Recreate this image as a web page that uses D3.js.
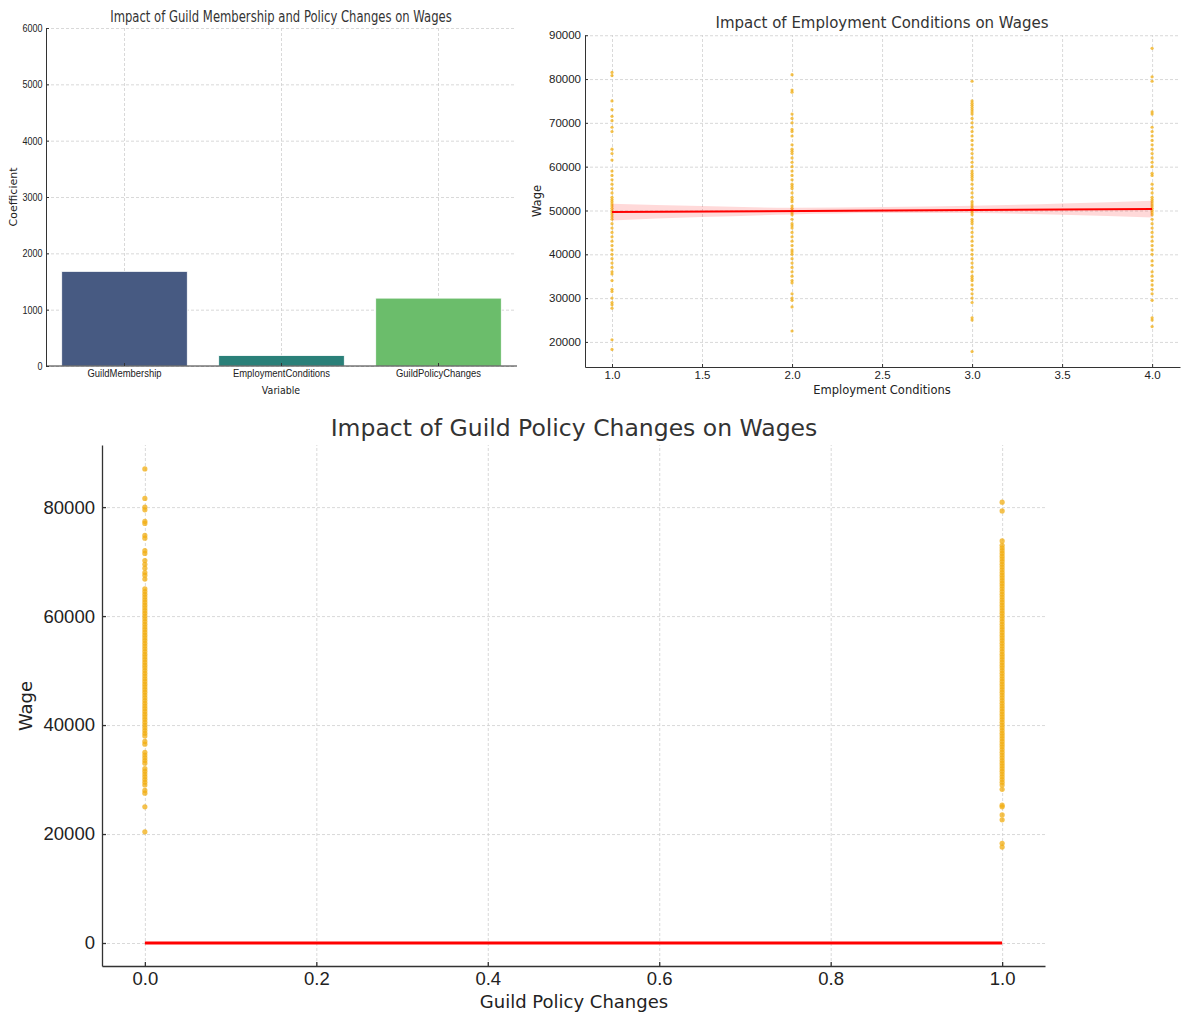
<!DOCTYPE html>
<html>
<head>
<meta charset="utf-8">
<script src="https://cdn.jsdelivr.net/npm/d3@7"></script>
<style>
  body { margin: 0; background: #fff; }
  svg { display: block; font-family: "DejaVu Sans", sans-serif; }
  .grid line { stroke: #cfcfcf; stroke-dasharray: 3,2; stroke-width: 0.8; }
  .grid path { display: none; }
  .axis path, .axis line { stroke: #333; }
  .axis text { fill: #222; }
</style>
</head>
<body>
<svg id="chart" width="1195" height="1013"></svg>
<script>
// --- bar chart: regression coefficients
const variables = ['GuildMembership', 'EmploymentConditions', 'GuildPolicyChanges'];
const coefficients = [1680, 185, 1205];
const barColors = ['#475a82', '#2a8079', '#6bbd6b'];
const coefTicks = [0, 1000, 2000, 3000, 4000, 5000, 6000];

// --- wages by employment condition (1..4)
const empLevels = [1, 2, 3, 4];
const wagesEmp1 = [81500, 80800, 75000, 73000, 71500, 70500, 69000, 68000, 64000, 63000, 61500, 59000, 58000, 57000, 56000,
  55000, 54000, 53000, 52500, 52000, 51500, 51000, 50500, 50000, 49500, 49000, 48500, 48000, 47000, 46000, 45000, 44000,
  43000, 42000, 41000, 40000, 39000, 38000, 37000, 36000, 35500, 34000, 32000, 31500, 30000, 29000, 28500, 27700, 20500, 18300];
const wagesEmp2 = [81000, 77500, 77000, 72000, 71000, 70000, 68500, 68000, 67000, 65000, 64000, 63500, 63000, 62000, 61000,
  60000, 59000, 58000, 57000, 56000, 55500, 55000, 54000, 53000, 52500, 52000, 51000, 50500, 50000, 49500, 49000, 48000,
  47000, 46500, 46000, 45000, 44000, 43000, 42000, 41000, 40500, 40000, 39000, 38000, 37000, 36000, 35000, 34000, 33500,
  31000, 30000, 29500, 28000, 22500];
const wagesEmp3 = [79500, 75000, 74500, 74000, 73500, 73000, 72500, 72000, 71000, 70000, 69000, 68000, 67000, 66000, 65000,
  64000, 63000, 62000, 61000, 60000, 59000, 58500, 58000, 57500, 57000, 56000, 55000, 54000, 53000, 52000, 51500, 51000,
  50500, 50000, 49500, 49000, 48000, 47500, 47000, 46000, 45000, 44000, 43000, 42000, 41000, 40000, 39000, 38000, 37000,
  36000, 35000, 34500, 34000, 33000, 32000, 31000, 30000, 29000, 25500, 25000, 17800];
const wagesEmp4 = [87000, 80500, 79500, 72500, 72000, 69000, 68000, 67000, 66000, 65000, 64000, 63000, 62000, 61000, 60000,
  58500, 58000, 56000, 55000, 54000, 53000, 52500, 52000, 51500, 51000, 50500, 50000, 49500, 49000, 48000, 47000, 46000,
  45000, 44000, 43000, 42000, 41000, 40000, 38500, 37500, 36000, 35000, 34000, 33000, 32000, 31000, 29500, 25500, 25000, 23500];
const wageTicksEmp = [20000, 30000, 40000, 50000, 60000, 70000, 80000, 90000];
const empTicks = [1.0, 1.5, 2.0, 2.5, 3.0, 3.5, 4.0];

// regression fit and 95% band (employment)
const fitX = [1, 4];
const fitY = [49660, 50340];
const bandX = [1, 1.5, 2, 2.5, 3, 3.5, 4];
const bandLow = [47730, 48500, 49100, 49400, 49400, 49000, 48420];
const bandHigh = [51560, 51000, 50600, 50800, 51100, 51600, 52240];

// --- wages by guild policy change (0 / 1)
const wagesPolicy0 = [87000, 81600, 80000, 79500, 77400, 77000, 74800, 74300, 72000, 71500, 70200, 69500, 68800, 68000,
  67500, 66800, 65000, 64500, 64000, 63500, 63000, 62500, 62000, 61500, 61000, 60500, 60000, 59500, 59000, 58500, 58000,
  57500, 57000, 56500, 56000, 55500, 55000, 54500, 54000, 53500, 53000, 52500, 52000, 51500, 51000, 50500, 50000, 49500,
  49000, 48500, 48000, 47500, 47000, 46500, 46000, 45500, 45000, 44500, 44000, 43500, 43000, 42500, 42000, 41500, 41000,
  40500, 40000, 39500, 39000, 38500, 38000, 37000, 36500, 35000, 34500, 34000, 33500, 33000, 32000, 31500, 31000, 30500,
  30000, 29500, 29000, 28000, 27500, 25000, 20400];
const wagesPolicy1 = [80900, 79300, 73800, 73000, 72500, 72000, 71500, 71000, 70500, 70000, 69500, 69000, 68500, 68000,
  67500, 67000, 66500, 66000, 65500, 65000, 64500, 64000, 63500, 63000, 62500, 62000, 61500, 61000, 60500, 60000, 59500,
  59000, 58500, 58000, 57500, 57000, 56500, 56000, 55500, 55000, 54500, 54000, 53500, 53000, 52500, 52000, 51500, 51000,
  50500, 50000, 49500, 49000, 48500, 48000, 47500, 47000, 46500, 46000, 45500, 45000, 44500, 44000, 43500, 43000, 42500,
  42000, 41500, 41000, 40500, 40000, 39500, 39000, 38500, 38000, 37500, 37000, 36500, 36000, 35500, 35000, 34500, 34000,
  33500, 33000, 32500, 32000, 31500, 31000, 30500, 30000, 29500, 29000, 28200, 25300, 25000, 23500, 22600, 18300, 17600];
const policyLevels = [0, 1];
const policyFit = [0, 0];
const wageTicksPolicy = [0, 20000, 40000, 60000, 80000];
const policyTicks = [0.0, 0.2, 0.4, 0.6, 0.8, 1.0];

const svg = d3.select('#chart');
const dotColor = '#f2ae12';

// the bar panel was squeezed horizontally in the original, so its text is narrowed
const squeeze = 0.86;
function narrow(sel) {
    sel.attr('transform', function () {
        const t = d3.select(this).attr('transform') || '';
        return t + ` scale(${squeeze},1)`;
    });
}

// ================= top-left: bar chart =================
{
  const g = svg.append('g');
  const x = d3.scaleBand().domain(variables).range([46, 517]).paddingInner(0.2).paddingOuter(0.1);
  const y = d3.scaleLinear().domain([0, 6000]).range([366, 28]);

  g.append('g').attr('class', 'grid')
    .attr('transform', 'translate(46,0)')
    .call(d3.axisLeft(y).tickValues(coefTicks).tickSize(-470).tickFormat(''));
  g.append('g').attr('class', 'grid')
    .attr('transform', 'translate(0,366)')
    .call(d3.axisBottom(x).tickSize(-338).tickFormat(''));

  g.selectAll('.bar')
    .data(variables)
    .enter()
    .append('rect')
    .attr('x', d => x(d))
    .attr('width', x.bandwidth())
    .attr('y', (d, i) => y(coefficients[i]))
    .attr('height', (d, i) => y(0) - y(coefficients[i]))
    .attr('fill', (d, i) => barColors[i])
    .attr('stroke', '#fff')
    .attr('stroke-width', 0.8);

  g.append('g').attr('class', 'axis')
    .attr('transform', 'translate(46,0)')
    .call(d3.axisLeft(y).tickValues(coefTicks).tickSize(-3).tickSizeOuter(0).tickPadding(4).tickFormat(d3.format('d')))
    .call(s => s.selectAll('text').style('font-size', '10.5px').call(narrow));
  g.append('g').attr('class', 'axis')
    .attr('transform', 'translate(0,366)')
    .call(d3.axisBottom(x).tickSize(-3).tickSizeOuter(0).tickPadding(3))
    .call(s => s.select('.domain').attr('d', 'M46,0H517'))
    .call(s => s.selectAll('text').style('font-size', '11px').call(narrow));

  g.append('text')
    .attr('transform', `translate(281,394) scale(${squeeze},1)`).attr('text-anchor', 'middle')
    .style('font-size', '11px').attr('fill', '#222').text('Variable');
  g.append('text')
    .attr('transform', 'translate(17,197) rotate(-90)').attr('text-anchor', 'middle')
    .style('font-size', '11px').attr('fill', '#222').text('Coefficient');
  g.append('text')
    .attr('transform', 'translate(281,22) scale(0.775,1)').attr('text-anchor', 'middle')
    .style('font-size', '15px').attr('fill', '#333')
    .text('Impact of Guild Membership and Policy Changes on Wages');
}

// ================= top-right: employment scatter =================
{
  const g = svg.append('g');
  const x = d3.scaleLinear().domain([0.85, 4.155]).range([585, 1180]);
  const y = d3.scaleLinear().domain([14280, 90050]).range([367, 35]);

  g.append('g').attr('class', 'grid')
    .attr('transform', 'translate(585,0)')
    .call(d3.axisLeft(y).tickValues(wageTicksEmp).tickSize(-595).tickFormat(''));
  g.append('g').attr('class', 'grid')
    .attr('transform', 'translate(0,367)')
    .call(d3.axisBottom(x).tickValues(empTicks).tickSize(-332).tickFormat(''));

  const pts = [];
  [wagesEmp1, wagesEmp2, wagesEmp3, wagesEmp4].forEach((arr, i) => {
    arr.forEach(w => pts.push({ e: empLevels[i], w }));
  });
  g.selectAll('.pt')
    .data(pts)
    .enter()
    .append('circle')
    .attr('cx', d => x(d.e))
    .attr('cy', d => y(d.w))
    .attr('r', 1.6)
    .attr('fill', dotColor)
    .attr('fill-opacity', 0.75);

  const band = d3.area()
    .x((d, i) => x(bandX[i]))
    .y0((d, i) => y(bandLow[i]))
    .y1((d, i) => y(bandHigh[i]))
    .curve(d3.curveMonotoneX);
  g.append('path')
    .datum(bandX)
    .attr('d', band)
    .attr('fill', 'rgba(255,0,0,0.15)');
  g.append('path')
    .datum(fitX)
    .attr('d', d3.line().x(d => x(d)).y((d, i) => y(fitY[i])))
    .attr('stroke', '#ff0000')
    .attr('stroke-width', 2)
    .attr('fill', 'none');

  g.append('g').attr('class', 'axis')
    .attr('transform', 'translate(585,0)')
    .call(d3.axisLeft(y).tickValues(wageTicksEmp).tickSize(-3).tickSizeOuter(0).tickPadding(4).tickFormat(d3.format('d')))
    .call(s => s.selectAll('text').style('font-size', '11.5px'));
  g.append('g').attr('class', 'axis')
    .attr('transform', 'translate(0,367)')
    .call(d3.axisBottom(x).tickValues(empTicks).tickSize(-3).tickSizeOuter(0).tickPadding(4).tickFormat(d3.format('.1f')))
    .call(s => s.selectAll('text').style('font-size', '11.5px'));

  g.append('text')
    .attr('x', 882).attr('y', 394).attr('text-anchor', 'middle')
    .style('font-size', '11.5px').attr('fill', '#222').text('Employment Conditions');
  g.append('text')
    .attr('transform', 'translate(541,201) rotate(-90)').attr('text-anchor', 'middle')
    .style('font-size', '11.5px').attr('fill', '#222').text('Wage');
  g.append('text')
    .attr('x', 882).attr('y', 28).attr('text-anchor', 'middle')
    .style('font-size', '15px').attr('fill', '#333')
    .text('Impact of Employment Conditions on Wages');
}

// ================= bottom: guild policy scatter =================
{
  const g = svg.append('g');
  const x = d3.scaleLinear().domain([-0.05, 1.05]).range([102, 1045]);
  const y = d3.scaleLinear().domain([-4220, 91400]).range([966, 445]);

  g.append('g').attr('class', 'grid')
    .attr('transform', 'translate(102,0)')
    .call(d3.axisLeft(y).tickValues(wageTicksPolicy).tickSize(-943).tickFormat(''));
  g.append('g').attr('class', 'grid')
    .attr('transform', 'translate(0,966)')
    .call(d3.axisBottom(x).tickValues(policyTicks).tickSize(-521).tickFormat(''));

  const pts = [];
  [wagesPolicy0, wagesPolicy1].forEach((arr, i) => {
    arr.forEach(w => pts.push({ p: policyLevels[i], w }));
  });
  g.selectAll('.pt')
    .data(pts)
    .enter()
    .append('circle')
    .attr('cx', d => x(d.p))
    .attr('cy', d => y(d.w))
    .attr('r', 2.6)
    .attr('fill', dotColor)
    .attr('fill-opacity', 0.75);

  g.append('path')
    .datum(policyLevels)
    .attr('d', d3.line().x(d => x(d)).y((d, i) => y(policyFit[i])))
    .attr('stroke', '#ff0000')
    .attr('stroke-width', 3)
    .attr('fill', 'none');

  g.append('g').attr('class', 'axis')
    .attr('transform', 'translate(102,0)')
    .call(d3.axisLeft(y).tickValues(wageTicksPolicy).tickSize(-4).tickSizeOuter(0).tickPadding(7).tickFormat(d3.format('d')))
    .call(s => s.selectAll('text').style('font-size', '18.5px'))
    .call(s => s.selectAll('path, line').attr('stroke-width', 1.3));
  g.append('g').attr('class', 'axis')
    .attr('transform', 'translate(0,966)')
    .call(d3.axisBottom(x).tickValues(policyTicks).tickSize(-4).tickSizeOuter(0).tickPadding(6).tickFormat(d3.format('.1f')))
    .call(s => s.selectAll('text').style('font-size', '18.5px'))
    .call(s => s.selectAll('path, line').attr('stroke-width', 1.3));

  g.append('text')
    .attr('x', 574).attr('y', 1008).attr('text-anchor', 'middle')
    .style('font-size', '18px').attr('fill', '#222').text('Guild Policy Changes');
  g.append('text')
    .attr('transform', 'translate(32,706) rotate(-90)').attr('text-anchor', 'middle')
    .style('font-size', '18px').attr('fill', '#222').text('Wage');
  g.append('text')
    .attr('x', 574).attr('y', 436).attr('text-anchor', 'middle')
    .style('font-size', '23.5px').attr('fill', '#333')
    .text('Impact of Guild Policy Changes on Wages');
}
</script>
</body>
</html>
